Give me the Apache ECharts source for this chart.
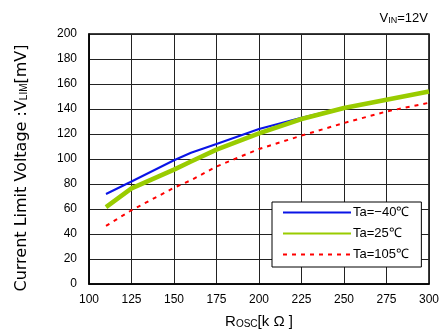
<!DOCTYPE html>
<html><head><meta charset="utf-8">
<script src="https://cdn.jsdelivr.net/npm/echarts@6/dist/echarts.min.js"></script>
<style>html,body{margin:0;padding:0;background:#fff}#c{width:442px;height:334px}</style>
</head><body><div id="c"></div>
<script>
const xTicks = [100,125,150,175,200,225,250,275,300];
const yTicks = [0,20,40,60,80,100,120,140,160,180,200];
const rosc = [110,125,150,160,175,200,225,250,275,300];
const taM40 = [72,82,99,105,112,124,133,141,147.5,154];
const ta25 = [61.5,76.5,91.5,98,107.5,120.5,132,140.8,147.4,154];
const ta105 = [46.5,59,77,83,94,108,118.7,128.8,138,145];
const seriesNames = ['Ta=\u221240\u2103','Ta=25\u2103','Ta=105\u2103'];

const font = 'Liberation Sans, Arial, sans-serif';
const tfont = 'DejaVu Sans, sans-serif';
const pair = (xs, ys) => xs.map((x,i)=>[x, ys[i]]);
const chart = echarts.init(document.getElementById('c'), null, {renderer:'canvas'});
chart.setOption({
  animation:false,
  backgroundColor:'#fff',
  textStyle:{fontFamily:font},
  grid:{left:89, top:34, right:13, bottom:49, show:true, borderColor:'#000', borderWidth:1.5, backgroundColor:'transparent'},
  xAxis:{type:'value', min:xTicks[0], max:xTicks[xTicks.length-1], interval:25,
    axisLine:{show:true, lineStyle:{color:'#000', width:1.5}},
    axisTick:{show:false},
    splitLine:{show:true, lineStyle:{color:'#222', width:1}},
    axisLabel:{color:'#000', fontSize:12, margin:10, fontFamily:font},
    name:'{a|R}{s|OSC}{a|[k \u03A9 ]}', nameLocation:'middle', nameGap:27,
    nameTextStyle:{rich:{a:{fontSize:15, color:'#000', fontFamily:font, verticalAlign:'bottom', lineHeight:18},
                         s:{fontSize:10, color:'#000', fontFamily:font, verticalAlign:'bottom', lineHeight:14}}}},
  yAxis:{type:'value', min:yTicks[0], max:yTicks[yTicks.length-1], interval:20,
    axisLine:{show:true, lineStyle:{color:'#000', width:1.5}},
    axisTick:{show:false},
    splitLine:{show:true, lineStyle:{color:'#222', width:1}},
    axisLabel:{color:'#000', fontSize:12, margin:12, fontFamily:font}},
  legend:{orient:'vertical', left:272, top:202,
    backgroundColor:'#fff', borderColor:'#000', borderWidth:1,
    padding:[4,12,6,10], itemGap:8, itemWidth:68, itemHeight:14,
    itemStyle:{opacity:0},
    textStyle:{fontSize:13, color:'#000', fontFamily:font, padding:[0,0,0,-3]},
    data:seriesNames},
  graphic:[
    {type:'text', right:14, top:12,
     style:{text:'{a|V}{s|IN}{a|=12V}', rich:{a:{fontSize:13, fill:'#000', fontFamily:font, verticalAlign:'bottom', lineHeight:16},
       s:{fontSize:9, fill:'#000', fontFamily:font, verticalAlign:'bottom', lineHeight:12}}}},
    {type:'text', x:20, y:168, rotation:Math.PI/2,
     style:{text:'{a|Current Limit Voltage :V}{s|LIM}{a|[mV]}', align:'center', verticalAlign:'middle',
       rich:{a:{fontSize:16, fill:'#000', fontFamily:tfont, verticalAlign:'bottom', lineHeight:19},
             s:{fontSize:10, fill:'#000', fontFamily:font, verticalAlign:'bottom', lineHeight:14}}}}
  ],
  series:[
    {name:seriesNames[0], type:'line', data:pair(rosc,taM40), symbol:'none', z:3,
     lineStyle:{color:'#0a14e6', width:2}, itemStyle:{color:'#0a14e6'}},
    {name:seriesNames[1], type:'line', data:pair(rosc,ta25), symbol:'none', z:4,
     lineStyle:{color:'#99cc00', width:4.5}, itemStyle:{color:'#99cc00'}},
    {name:seriesNames[2], type:'line', data:pair(rosc,ta105), symbol:'none', z:2,
     lineStyle:{color:'#ff0000', width:2, type:[4,5]}, itemStyle:{color:'#ff0000'}}
  ]
});
</script></body></html>
